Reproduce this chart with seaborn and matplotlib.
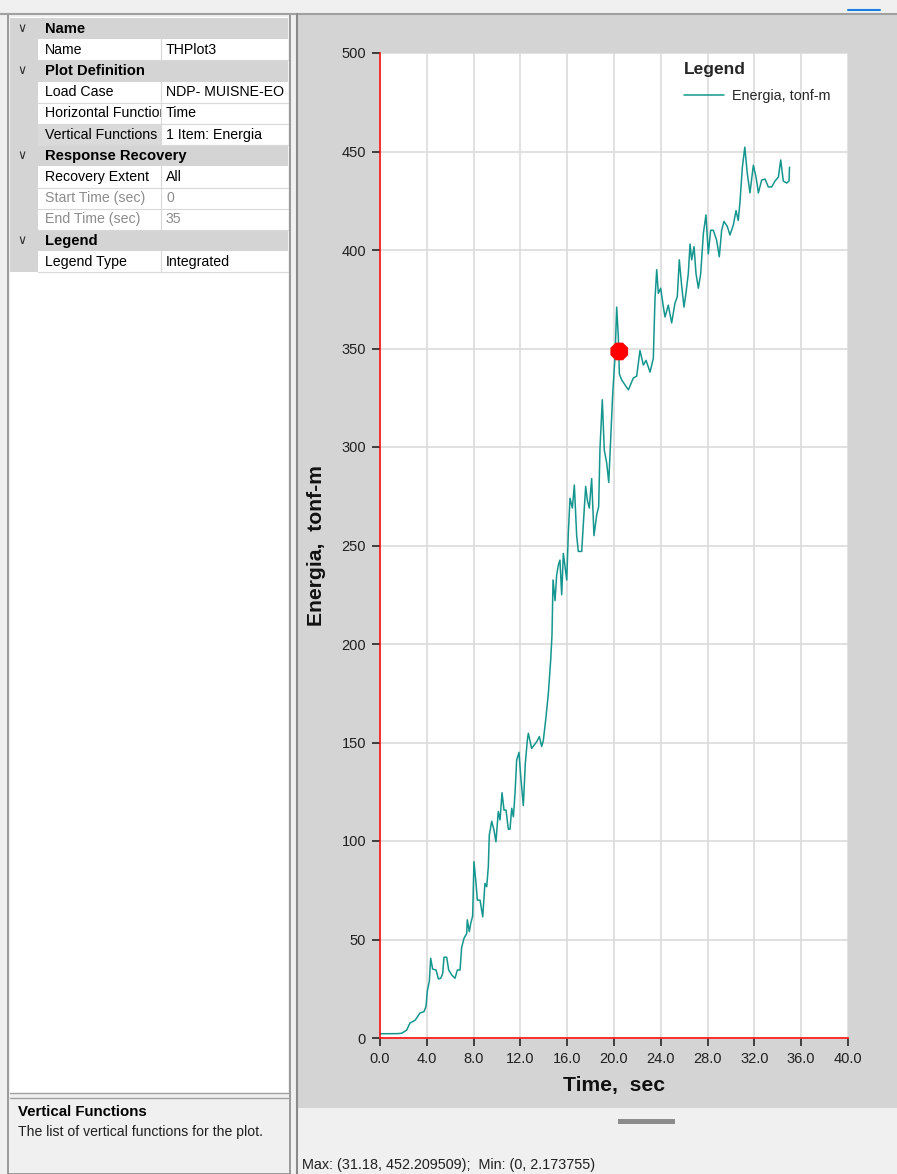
import numpy as np
import pandas as pd
import matplotlib
matplotlib.use("Agg")
import matplotlib.pyplot as plt
import seaborn as sns
from matplotlib.patches import Rectangle
from matplotlib.lines import Line2D

# time history (sec, tonf-m)
time_sec = [0.0, 1.43, 1.85, 2.28, 2.56, 3.0, 3.42, 3.76, 3.93, 4.05, 4.22, 4.33, 4.5, 4.79,
            4.99, 5.19, 5.36, 5.47, 5.7, 5.87, 6.13, 6.41, 6.61, 6.84, 6.98, 7.18, 7.41, 7.46,
            7.63, 7.75, 7.92, 8.03, 8.2, 8.32, 8.55, 8.78, 8.97, 9.12, 9.26, 9.34, 9.55, 9.74,
            9.91, 10.11, 10.26, 10.43, 10.6, 10.77, 10.97, 11.11, 11.26, 11.4, 11.54, 11.68,
            11.88, 12.03, 12.25, 12.42, 12.59, 12.68, 12.96, 13.39, 13.62, 13.82, 13.96, 14.19,
            14.39, 14.59, 14.7, 14.79, 14.96, 15.1, 15.24, 15.38, 15.53, 15.67, 15.96, 16.1,
            16.24, 16.44, 16.61, 16.81, 16.95, 17.24, 17.38, 17.58, 17.72, 17.89, 18.09, 18.29,
            18.52, 18.69, 18.8, 19.0, 19.17, 19.38, 19.55, 19.72, 19.89, 20.09, 20.23, 20.37,
            20.46, 20.66, 21.23, 21.65, 21.94, 22.22, 22.51, 22.74, 23.08, 23.36, 23.5, 23.65,
            23.79, 23.99, 24.22, 24.36, 24.64, 24.93, 25.21, 25.41, 25.58, 25.79, 25.98, 26.15,
            26.35, 26.5, 26.64, 26.84, 27.01, 27.21, 27.41, 27.64, 27.86, 28.06, 28.26, 28.49,
            28.77, 29.0, 29.2, 29.4, 29.68, 29.91, 30.2, 30.43, 30.62, 30.77, 30.97, 31.18,
            31.39, 31.62, 31.91, 32.14, 32.34, 32.62, 32.91, 33.19, 33.48, 33.76, 34.05, 34.25,
            34.47, 34.76, 34.96, 35.0]
energia = [2.17, 2.2, 2.4, 4.0, 7.6, 9.0, 12.7, 13.4, 16.0, 24.0, 29.0, 40.5, 35.0, 34.5,
           30.0, 30.3, 32.8, 41.0, 41.0, 34.5, 32.0, 30.3, 34.5, 34.5, 46.0, 50.6, 53.0, 60.0,
           54.0, 58.0, 62.0, 89.5, 79.0, 70.0, 70.0, 61.5, 78.5, 76.8, 87.0, 103.0, 110.0, 105.6,
           99.6, 115.0, 110.7, 124.5, 115.7, 115.7, 106.0, 106.0, 116.6, 112.3, 124.0, 141.0,
           145.0, 132.6, 118.0, 139.4, 151.0, 154.7, 147.0, 150.4, 153.0, 148.0, 151.0, 163.0,
           175.0, 192.0, 204.6, 232.5, 222.0, 235.0, 240.0, 242.6, 225.0, 246.0, 232.5, 257.0,
           274.0, 269.0, 280.7, 255.0, 247.0, 247.0, 261.0, 280.0, 273.0, 269.0, 284.0, 255.0,
           265.5, 269.7, 299.0, 324.0, 298.5, 291.7, 282.0, 305.0, 327.0, 346.0, 371.0, 356.0,
           337.0, 334.0, 329.0, 335.0, 336.0, 349.0, 341.6, 344.0, 338.0, 345.0, 374.6, 390.0,
           378.0, 380.6, 371.0, 366.0, 372.0, 363.0, 373.0, 376.3, 395.0, 381.4, 371.0, 378.0,
           388.0, 403.0, 395.0, 401.7, 388.0, 380.6, 388.0, 408.5, 417.8, 398.0, 410.0, 410.0,
           405.0, 396.6, 410.0, 414.5, 412.0, 407.6, 412.7, 420.0, 415.0, 424.5, 442.0, 452.2,
           439.0, 429.0, 443.0, 437.0, 429.0, 435.5, 436.0, 432.0, 432.0, 435.0, 437.0, 445.7,
           435.0, 434.0, 435.0, 442.0]
cursor_time = [20.45]
cursor_value = [348.5]

x_ticks = [0, 4, 8, 12, 16, 20, 24, 28, 32, 36, 40]
y_ticks = [0, 50, 100, 150, 200, 250, 300, 350, 400, 450, 500]

# property grid contents
grid_headers = {0: "Name", 2: "Plot Definition", 6: "Response Recovery", 10: "Legend"}
grid_rows = {1: ("Name", "THPlot3"), 3: ("Load Case", "NDP- MUISNE-EO"),
             4: ("Horizontal Function", "Time"), 5: ("Vertical Functions", "1 Item: Energia"),
             7: ("Recovery Extent", "All"), 8: ("Start Time (sec)", "0"),
             9: ("End Time (sec)", "35"), 11: ("Legend Type", "Integrated")}
disabled_rows = [8, 9]
selected_row = 5

sns.set_style("white")
plt.rcParams['font.family'] = ['Liberation Sans', 'DejaVu Sans']

W, H = 897, 1174
fig = plt.figure(figsize=(W / 100, H / 100), dpi=100, facecolor='#f0f0f0')


def box(x0, y0, x1, y1, fc, ec='none', lw=0, z=-3):
    r = Rectangle((x0 / W, 1 - y1 / H), (x1 - x0) / W, (y1 - y0) / H,
                  transform=fig.transFigure, facecolor=fc, edgecolor=ec,
                  linewidth=lw, zorder=z)
    fig.add_artist(r)
    return r


def line(x0, y0, x1, y1, c, lw=0.75, z=-2):
    fig.add_artist(Line2D([x0 / W, x1 / W], [1 - y0 / H, 1 - y1 / H],
                          transform=fig.transFigure, color=c, lw=lw, zorder=z))


def label(x, y, s, **kw):
    return fig.text(x / W, 1 - y / H, s, va='center', **kw)


# window chrome
line(0, 14, 897, 14, '#a0a0a0', lw=1.5)
line(848, 10, 880, 10, '#1a7fe0', lw=1.5)

# right panel
box(297, 15, 897, 1108, '#d4d4d4')
line(297, 14, 297, 1174, '#8a8a8a', lw=1.5)
box(618, 1119, 675, 1124, '#8c8c8c')
label(302, 1165, "Max: (31.18, 452.209509);  Min: (0, 2.173755)", fontsize=10.4, color='#202020')

# left panel (property grid)
box(8, 14, 290, 1174, '#f0f0f0', ec='#8a8a8a', lw=1.2)
box(10, 17, 288, 1093, 'white')
line(10, 1093, 288, 1093, '#a0a0a0', lw=1)
line(10, 1098, 288, 1098, '#a0a0a0', lw=1)
row_top, row_h = 18, 21.2
for i in range(12):
    y0 = row_top + i * row_h
    yc = y0 + row_h / 2
    if i in grid_headers:
        box(10, y0, 288, y0 + row_h, '#d4d4d4')
        label(45, yc, grid_headers[i], fontsize=10.6, fontweight='bold', color='black')
        label(22, yc, "\u2228", fontsize=9, color='#303030', family='DejaVu Sans', ha='center')
    else:
        name, val = grid_rows[i]
        box(10, y0, 38, y0 + row_h, '#d4d4d4')
        cell = box(38, y0, 161, y0 + row_h, '#dadada' if i == selected_row else 'white')
        line(38, y0 + row_h, 288, y0 + row_h, '#d8d8d8', lw=0.8)
        line(161, y0, 161, y0 + row_h, '#d8d8d8', lw=0.8)
        c = '#8c8c8c' if i in disabled_rows else 'black'
        t = label(45, yc, name, fontsize=10.2, color=c)
        t.set_clip_path(cell)
        label(166, yc, val, fontsize=10.2, color=c)
label(18, 1112, "Vertical Functions", fontsize=10.8, fontweight='bold', color='black')
label(18, 1132, "The list of vertical functions for the plot.", fontsize=10.1, color='#202020')

# plot
ax = fig.add_axes([380 / W, 1 - 1038 / H, 468 / W, 985 / H])
ax.set_zorder(1)
ax.set_facecolor('white')
sns.lineplot(x=time_sec, y=energia, ax=ax, color='#14968f', linewidth=1.1,
             label='Energia, tonf-m', estimator=None, sort=False)
sns.scatterplot(x=cursor_time, y=cursor_value, ax=ax, marker='8', s=190,
                color='#ff0000', edgecolor='none', zorder=5, legend=False)

ax.set_xlim(0, 40)
ax.set_ylim(0, 500)
ax.set_xticks(x_ticks)
ax.set_xticklabels([f"{v:.1f}" for v in x_ticks])
ax.set_yticks(y_ticks)
ax.grid(True, color='#dcdcdc', lw=1.2)
ax.set_axisbelow(True)
for s in ['top', 'right']:
    ax.spines[s].set_visible(False)
ax.spines['left'].set_color('#ff0000')
ax.spines['bottom'].set_color('#ff2020')
ax.spines['left'].set_linewidth(1.1)
ax.spines['bottom'].set_linewidth(1.3)
ax.tick_params(axis='both', direction='out', length=6, width=1.3, color='#333333',
               labelsize=10.5, labelcolor='#202020', pad=4)
ax.tick_params(axis='y', left=True)
ax.tick_params(axis='x', bottom=True)

ax.set_ylabel('Energia,  tonf-m', fontsize=15.2, fontweight='bold', color='#111111')
ax.set_xlabel('Time,  sec', fontsize=15.2, fontweight='bold', color='#111111')
ax.yaxis.set_label_coords(-0.115, 0.5)
ax.xaxis.set_label_coords(0.5, -0.039)

ax.legend(title='Legend', loc='upper left', bbox_to_anchor=((684 - 380) / 468, (1038 - 62) / 985),
          frameon=False, alignment='left', fontsize=10.4, handlelength=2.8, handletextpad=0.55,
          labelspacing=0.8, borderpad=0, borderaxespad=0,
          title_fontproperties={'weight': 'bold', 'size': 12.5})

plt.savefig("out.png", dpi=100, facecolor=fig.get_facecolor())
